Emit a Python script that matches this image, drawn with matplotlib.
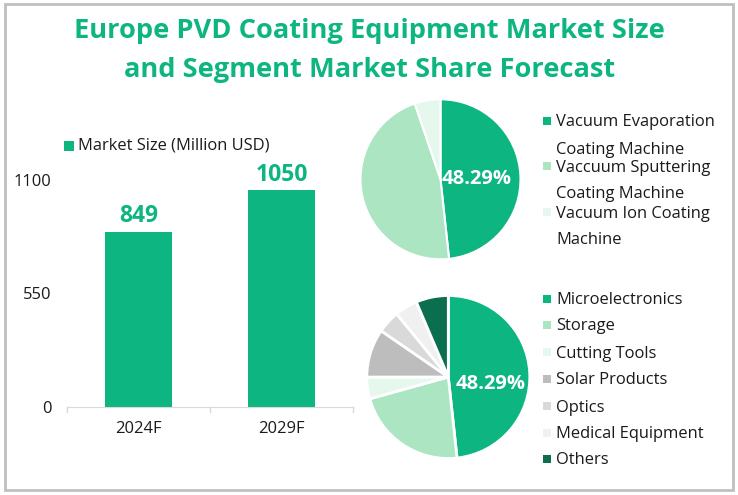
# Europe PVD coating equipment - market size and segment share

import matplotlib
matplotlib.use('Agg')
import matplotlib.pyplot as plt
from matplotlib.patches import Rectangle

plt.rcParams['font.family'] = ['Open Sans', 'DejaVu Sans']

W, H = 738, 495

title_lines = ['Europe PVD Coating Equipment Market Size', 'and Segment Market Share Forecast']

years = ['2024F', '2029F']
market_size = [849, 1050]
yticks = [0, 550, 1100]
bar_label = 'Market Size (Million USD)'

tech_labels = ['Vacuum Evaporation\nCoating Machine', 'Vaccuum Sputtering\nCoating Machine',
               'Vacuum Ion Coating\nMachine']
tech_share = [48.29, 46.5, 5.21]
tech_colors = ['#0DB581', '#ABE5C2', '#E6F7EE']

app_labels = ['Microelectronics', 'Storage', 'Cutting Tools', 'Solar Products', 'Optics',
              'Medical Equipment', 'Others']
app_share = [48.29, 22.4, 4.3, 9.6, 4.5, 4.5, 6.41]
app_colors = ['#0DB581', '#ABE5C2', '#E6F7EE', '#BDBDBD', '#D9D9D9', '#F0F0F0', '#0B6E4F']

GREEN = '#0DB581'
TXT = '#1a1a1a'
FS = 11.9


def px_axes(fig, x0, y0, x1, y1):
    # axes from pixel box, y counted from the top
    return fig.add_axes([x0 / W, 1 - y1 / H, (x1 - x0) / W, (y1 - y0) / H])


fig = plt.figure(figsize=(W / 100, H / 100), dpi=100, facecolor='white')

# overlay in pixel coordinates for frame, title and legends
ov = fig.add_axes([0, 0, 1, 1], zorder=5)
ov.set_xlim(0, W)
ov.set_ylim(H, 0)
ov.axis('off')
ov.patch.set_alpha(0)
ov.add_patch(Rectangle((5, 3.5), 727.5, 486, fill=False, ec='#BFBFBF', lw=2))

ov.text(369.5, 31.5, title_lines[0], color=GREEN, fontsize=19.6, fontweight='bold', ha='center', va='center')
ov.text(369.5, 70, title_lines[1], color=GREEN, fontsize=19.6, fontweight='bold', ha='center', va='center')

# bars
ax = px_axes(fig, 67, 180, 353, 407)
ax.bar(range(len(years)), market_size, width=0.475, color=GREEN)
ax.set_xlim(-0.5, 1.5)
ax.set_ylim(0, 1100)
ax.set_yticks(yticks)
ax.set_xticks(range(len(years)))
ax.set_xticklabels(years, fontsize=FS, color=TXT)
ax.tick_params(axis='y', length=0, labelsize=FS, labelcolor=TXT, pad=11)
ax.tick_params(axis='x', length=0, pad=10)
for s in ['top', 'right', 'left']:
    ax.spines[s].set_visible(False)
ax.spines['bottom'].set_color('#D9D9D9')
ax.patch.set_alpha(0)
for xt in [-0.5, 0.5, 1.5]:
    ax.plot([xt, xt], [0, -26], color='#D9D9D9', lw=1, clip_on=False)
for i, v in enumerate(market_size):
    ax.annotate(str(v), (i, v), xytext=(0, 2.5), textcoords='offset points', ha='center', va='bottom',
                color=GREEN, fontsize=16.5, fontweight='bold')

ov.add_patch(Rectangle((64, 141), 10, 10, color=GREEN, lw=0))
ov.text(78, 146, bar_label, fontsize=FS, color=TXT, va='center')

# pies
ax1 = px_axes(fig, 360.5, 99.3, 520.5, 259.3)
ax1.pie(tech_share, colors=tech_colors, startangle=90, counterclock=False, radius=1,
        wedgeprops={'edgecolor': 'white', 'linewidth': 1.5})
ax1.set_xlim(-1, 1)
ax1.set_ylim(-1, 1)
ax1.text(0.45, 0.01, '%.2f%%' % tech_share[0], color='white', fontsize=14.5, fontweight='bold', ha='center', va='center')

ax2 = px_axes(fig, 366.8, 295.5, 529.8, 458.5)
ax2.pie(app_share, colors=app_colors, startangle=90, counterclock=False, radius=1,
        wedgeprops={'edgecolor': 'white', 'linewidth': 2})
ax2.set_xlim(-1, 1)
ax2.set_ylim(-1, 1)
ax2.text(0.525, -0.08, '%.2f%%' % app_share[0], color='white', fontsize=14.5, fontweight='bold', ha='center', va='center')

# legends of the pies
tech_y = [122.5, 167.5, 213.5]
for lab, col, y in zip(tech_labels, tech_colors, tech_y):
    ov.add_patch(Rectangle((543, y - 5.5), 8, 8, color=col, lw=0))
    first, second = lab.split('\n')
    ov.text(556, y, first, fontsize=FS, color=TXT, va='center')
    ov.text(556, y + 27, second, fontsize=FS, color=TXT, va='center')

app_y = [300.5, 326.5, 353.5, 380.5, 407.5, 434.5, 460.5]
for lab, col, y in zip(app_labels, app_colors, app_y):
    ov.add_patch(Rectangle((543, y - 5.5), 8, 8, color=col, lw=0))
    ov.text(556, y, lab, fontsize=FS, color=TXT, va='center')

fig.savefig('out.png', dpi=100)
